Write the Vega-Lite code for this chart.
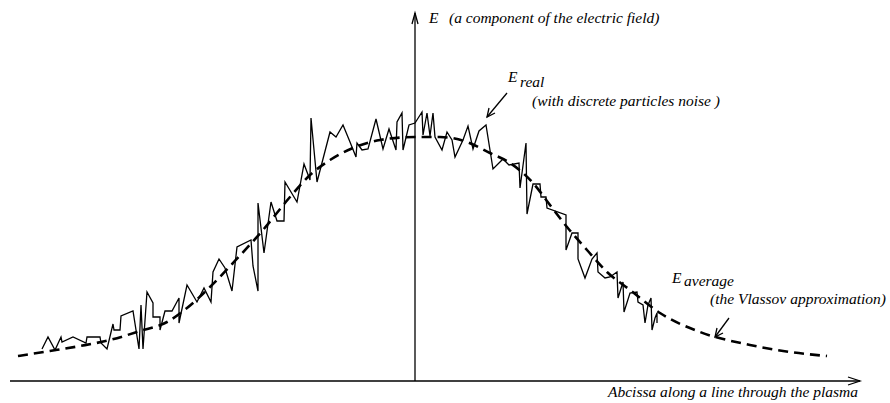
{
  "$schema": "https://vega.github.io/schema/vega-lite/v6.json",
  "width": 890,
  "height": 403,
  "padding": 0,
  "autosize": {"type": "fit", "contains": "padding"},
  "background": "white",
  "config": {"view": {"stroke": null}},
  "datasets": {
    "guides": [
      {"g": "xaxis", "X": -405, "Y": 0}, {"g": "xaxis", "X": 445, "Y": 0},
      {"g": "xarrow", "X": 433, "Y": 4}, {"g": "xarrow", "X": 445, "Y": 0}, {"g": "xarrow", "X": 433, "Y": -4},
      {"g": "yaxis", "X": 0, "Y": 0}, {"g": "yaxis", "X": 0, "Y": 368},
      {"g": "yarrow", "X": -3, "Y": 357}, {"g": "yarrow", "X": 0, "Y": 368}, {"g": "yarrow", "X": 3, "Y": 357},
      {"g": "realarrow", "X": 92, "Y": 288}, {"g": "realarrow", "X": 72, "Y": 264},
      {"g": "realhead", "X": 74, "Y": 273}, {"g": "realhead", "X": 72, "Y": 264}, {"g": "realhead", "X": 80, "Y": 268},
      {"g": "avgarrow", "X": 314, "Y": 63}, {"g": "avgarrow", "X": 300, "Y": 44},
      {"g": "avghead", "X": 302, "Y": 53}, {"g": "avghead", "X": 300, "Y": 44}, {"g": "avghead", "X": 308, "Y": 48}
    ],
    "average": [
      {"X": -397, "Y": 25}, {"X": -365, "Y": 30}, {"X": -335, "Y": 35}, {"X": -305, "Y": 41},
      {"X": -275, "Y": 50}, {"X": -248, "Y": 59}, {"X": -228, "Y": 73}, {"X": -205, "Y": 94},
      {"X": -182, "Y": 118}, {"X": -152, "Y": 151}, {"X": -125, "Y": 184}, {"X": -105, "Y": 206},
      {"X": -85, "Y": 221}, {"X": -62, "Y": 233}, {"X": -35, "Y": 241}, {"X": 0, "Y": 244},
      {"X": 25, "Y": 244}, {"X": 52, "Y": 239}, {"X": 75, "Y": 228}, {"X": 95, "Y": 218},
      {"X": 118, "Y": 198}, {"X": 135, "Y": 176}, {"X": 152, "Y": 154}, {"X": 172, "Y": 131},
      {"X": 192, "Y": 109}, {"X": 215, "Y": 91}, {"X": 245, "Y": 68}, {"X": 285, "Y": 49},
      {"X": 335, "Y": 36}, {"X": 375, "Y": 29}, {"X": 412, "Y": 25}
    ],
    "real": [
      {"X": -373, "Y": 32}, {"X": -367, "Y": 44}, {"X": -360, "Y": 31}, {"X": -354, "Y": 44},
      {"X": -353, "Y": 39}, {"X": -342, "Y": 44}, {"X": -329, "Y": 38}, {"X": -328, "Y": 44},
      {"X": -315, "Y": 44}, {"X": -314, "Y": 38}, {"X": -308, "Y": 32}, {"X": -302, "Y": 57},
      {"X": -301, "Y": 51}, {"X": -295, "Y": 51}, {"X": -294, "Y": 65}, {"X": -282, "Y": 70},
      {"X": -276, "Y": 32}, {"X": -274, "Y": 76}, {"X": -272, "Y": 32}, {"X": -268, "Y": 89},
      {"X": -262, "Y": 78}, {"X": -262, "Y": 64}, {"X": -255, "Y": 64}, {"X": -255, "Y": 51},
      {"X": -250, "Y": 70}, {"X": -243, "Y": 70}, {"X": -236, "Y": 83}, {"X": -236, "Y": 58},
      {"X": -228, "Y": 96}, {"X": -218, "Y": 79}, {"X": -211, "Y": 93}, {"X": -204, "Y": 79},
      {"X": -202, "Y": 109}, {"X": -196, "Y": 122}, {"X": -190, "Y": 113}, {"X": -183, "Y": 90},
      {"X": -178, "Y": 134}, {"X": -164, "Y": 141}, {"X": -162, "Y": 115}, {"X": -157, "Y": 90},
      {"X": -157, "Y": 178}, {"X": -151, "Y": 128}, {"X": -144, "Y": 179}, {"X": -138, "Y": 160},
      {"X": -131, "Y": 160}, {"X": -130, "Y": 199}, {"X": -118, "Y": 179}, {"X": -111, "Y": 217},
      {"X": -105, "Y": 201}, {"X": -104, "Y": 263}, {"X": -98, "Y": 199}, {"X": -85, "Y": 249},
      {"X": -79, "Y": 244}, {"X": -72, "Y": 256}, {"X": -65, "Y": 239}, {"X": -59, "Y": 224},
      {"X": -58, "Y": 238}, {"X": -53, "Y": 231}, {"X": -47, "Y": 232}, {"X": -39, "Y": 262},
      {"X": -32, "Y": 232}, {"X": -26, "Y": 252}, {"X": -19, "Y": 231}, {"X": -18, "Y": 259},
      {"X": -13, "Y": 268}, {"X": -12, "Y": 231}, {"X": -6, "Y": 256}, {"X": 0, "Y": 258},
      {"X": 7, "Y": 269}, {"X": 8, "Y": 246}, {"X": 12, "Y": 268}, {"X": 15, "Y": 245},
      {"X": 18, "Y": 268}, {"X": 20, "Y": 244}, {"X": 27, "Y": 231}, {"X": 32, "Y": 249},
      {"X": 37, "Y": 241}, {"X": 40, "Y": 224}, {"X": 48, "Y": 241}, {"X": 53, "Y": 255},
      {"X": 58, "Y": 232}, {"X": 64, "Y": 250}, {"X": 71, "Y": 256}, {"X": 78, "Y": 212},
      {"X": 88, "Y": 222}, {"X": 94, "Y": 216}, {"X": 104, "Y": 218}, {"X": 105, "Y": 193},
      {"X": 111, "Y": 238}, {"X": 112, "Y": 167}, {"X": 118, "Y": 197}, {"X": 125, "Y": 197},
      {"X": 126, "Y": 184}, {"X": 131, "Y": 184}, {"X": 132, "Y": 173}, {"X": 151, "Y": 166},
      {"X": 151, "Y": 131}, {"X": 157, "Y": 148}, {"X": 163, "Y": 148}, {"X": 163, "Y": 122},
      {"X": 170, "Y": 103}, {"X": 177, "Y": 122}, {"X": 182, "Y": 128}, {"X": 183, "Y": 109},
      {"X": 190, "Y": 103}, {"X": 195, "Y": 104}, {"X": 202, "Y": 109}, {"X": 203, "Y": 83},
      {"X": 208, "Y": 99}, {"X": 209, "Y": 69}, {"X": 215, "Y": 88}, {"X": 222, "Y": 89},
      {"X": 223, "Y": 79}, {"X": 228, "Y": 76}, {"X": 230, "Y": 58}, {"X": 233, "Y": 76},
      {"X": 236, "Y": 83}, {"X": 237, "Y": 51}, {"X": 240, "Y": 63}, {"X": 242, "Y": 68},
      {"X": 242, "Y": 58}
    ],
    "labelsLeft": [
      {"X": 14, "Y": 358, "label": "E"},
      {"X": 34, "Y": 358, "label": "(a component of the electric field)"},
      {"X": 93, "Y": 299, "label": "E"},
      {"X": 105, "Y": 294, "label": "real"},
      {"X": 117, "Y": 275, "label": "(with discrete particles noise )"},
      {"X": 257, "Y": 98, "label": "E"},
      {"X": 269, "Y": 95, "label": "average"}
    ],
    "labelsRight": [
      {"X": 471, "Y": 77, "label": "(the Vlassov approximation)"},
      {"X": 443, "Y": -16, "label": "Abcissa along a line through the plasma"}
    ]
  },
  "encoding": {
    "x": {"field": "X", "type": "quantitative", "axis": null,
          "scale": {"domain": [-415, 475], "nice": false, "zero": false}},
    "y": {"field": "Y", "type": "quantitative", "axis": null,
          "scale": {"domain": [-22, 381], "nice": false, "zero": false}}
  },
  "layer": [
    {
      "data": {"name": "guides"},
      "mark": {"type": "line", "color": "black", "strokeWidth": 1.3},
      "encoding": {"detail": {"field": "g"}, "order": {"value": null}}
    },
    {
      "data": {"name": "average"},
      "mark": {"type": "line", "color": "black", "strokeWidth": 2.6, "strokeDash": [10, 6], "interpolate": "monotone"},
      "encoding": {}
    },
    {
      "data": {"name": "real"},
      "mark": {"type": "line", "color": "black", "strokeWidth": 1.3},
      "encoding": {"order": {"value": null}}
    },
    {
      "data": {"name": "labelsLeft"},
      "mark": {"type": "text", "align": "left", "baseline": "alphabetic", "font": "Liberation Serif, DejaVu Serif, serif", "fontStyle": "italic", "fontSize": 15.5, "color": "black"},
      "encoding": {"text": {"field": "label"}}
    },
    {
      "data": {"name": "labelsRight"},
      "mark": {"type": "text", "align": "right", "baseline": "alphabetic", "font": "Liberation Serif, DejaVu Serif, serif", "fontStyle": "italic", "fontSize": 15.5, "color": "black"},
      "encoding": {"text": {"field": "label"}}
    }
  ]
}
